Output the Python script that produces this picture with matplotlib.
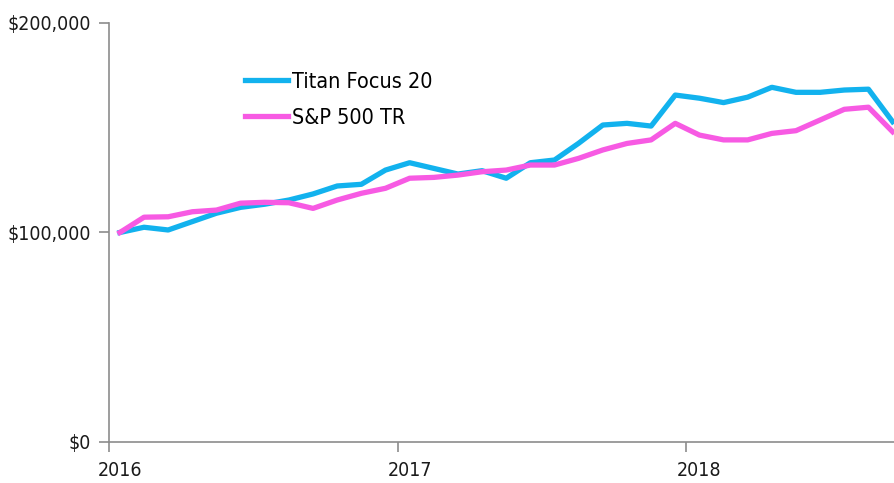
import matplotlib
matplotlib.use("Agg")
import matplotlib.pyplot as plt
from matplotlib.ticker import FuncFormatter

# monthly growth of $100,000, Jan 2016 .. Sep 2018
months = list(range(33))
titan = [100.0, 102.5, 101.2, 105.2, 109.2, 112.0, 113.5, 115.5, 118.4, 122.2, 123.0,
         129.8, 133.3, 130.6, 127.9, 129.5, 125.9, 133.3, 134.6, 142.6, 151.3, 152.1,
         150.8, 165.6, 164.1, 162.0, 164.6, 169.3, 166.9, 166.9, 168.0, 168.4, 152.9]
sp500 = [100.0, 107.3, 107.5, 109.9, 110.7, 114.0, 114.4, 114.2, 111.5, 115.5, 118.7,
         121.1, 125.9, 126.3, 127.4, 129.0, 129.8, 132.2, 132.2, 135.4, 139.4, 142.5,
         144.2, 152.1, 146.5, 144.2, 144.2, 147.3, 148.6, 153.7, 158.8, 159.8, 148.1]
titan = [v * 1000 for v in titan]
sp500 = [v * 1000 for v in sp500]

# year boundaries get the tick marks, labels sit under the January points
year_bounds = [-0.45, 11.5, 23.45]
year_label_pos = [0, 12, 24]
year_labels = ["2016", "2017", "2018"]

plt.rcParams['font.family'] = ['DejaVu Sans']
plt.rcParams['font.stretch'] = 'condensed'

fig = plt.figure(figsize=(8.95, 4.83), dpi=100)
ax = fig.add_axes([0.1218, 0.0849, 0.8782, 0.8675])

ax.plot(months, titan, color="#12B2EE", lw=3.8, label="Titan Focus 20", solid_joinstyle="round")
ax.plot(months, sp500, color="#F75AE3", lw=3.8, label="S&P 500 TR", solid_joinstyle="round")

ax.set_ylim(0, 200000)
ax.set_xlim(-0.45, 32.1)
ax.set_yticks([0, 100000, 200000])
ax.yaxis.set_major_formatter(FuncFormatter(lambda v, p: f"${v:,.0f}"))
ax.set_xticks(year_bounds)
ax.set_xticklabels([])
ax.set_xticks(year_label_pos, minor=True)
ax.set_xticklabels(year_labels, minor=True)

for s in ["top", "right"]:
    ax.spines[s].set_visible(False)
for s in ["left", "bottom"]:
    ax.spines[s].set_color("#8c8c8c")
    ax.spines[s].set_linewidth(1.2)
ax.tick_params(colors="#8c8c8c", labelcolor="#1a1a1a", labelsize=14, length=7, width=1.2)
ax.tick_params(axis="y", pad=6)
ax.tick_params(axis="x", which="minor", length=0, pad=14, labelsize=14, labelcolor="#1a1a1a")

ax.legend(loc="upper left", bbox_to_anchor=(0.148, 0.93), frameon=False, fontsize=15.5,
          handlelength=2.0, labelspacing=0.75, handletextpad=0.2)

fig.savefig("out.png", dpi=100)
